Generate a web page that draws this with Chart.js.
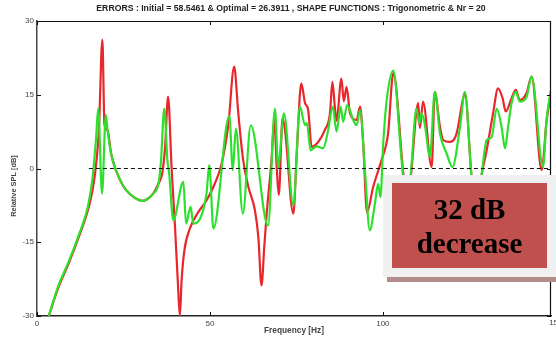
<!DOCTYPE html>
<html>
<head>
<meta charset="utf-8">
<script src="https://cdn.jsdelivr.net/npm/chart.js@4"></script>
<style>
html,body{margin:0;padding:0;background:#fff;}
canvas{display:block;}
</style>
</head>
<body>
<canvas id="c" width="556" height="338"></canvas>
<script>
// ---- data ----
const titleText = 'ERRORS : Initial = 58.5461 & Optimal = 26.3911 , SHAPE FUNCTIONS : Trigonometric & Nr = 20';
const xTitle = 'Frequency [Hz]';
const yTitle = 'Relative SPL [dB]';
const xTicks = [0, 50, 100];
const xExtraTick = 150;
const yTicks = [-30, -15, 0, 15, 30];
const boxLines = ['32 dB', 'decrease'];

const freqGreen = [3.4, 6.1, 9.3, 12.2, 14.7, 16.1, 17.1, 17.7, 18.8, 19.9, 20.4, 21.4, 22.8, 24.8, 26.7, 28.6, 30.5, 31.7, 33.6, 35.1, 35.8, 36.8, 37.7, 38.2, 39.4, 42.3, 43.1, 44.4, 45.2, 49.0, 49.8, 51.0, 55.6, 56.6, 57.5, 59.5, 61.8, 66.8, 68.8, 69.7, 71.4, 74.1, 76.0, 77.5, 78.0, 79.1, 80.8, 82.7, 84.1, 85.5, 86.6, 87.8, 88.5, 89.7, 91.4, 92.4, 93.4, 94.8, 96.2, 97.7, 98.6, 99.3, 100.1, 101.1, 103.0, 105.4, 106.6, 108.0, 109.7, 110.5, 111.2, 112.1, 113.6, 115.0, 116.5, 118.4, 120.1, 122.3, 123.7, 125.6, 126.9, 128.5, 130.0, 131.4, 132.9, 134.3, 135.3, 136.2, 137.2, 138.4, 139.6, 141.5, 143.0, 146.3, 147.3, 148.6];
const splGreen = [-30, -24, -18.7, -13.3, -7.8, -1.7, 6.4, 12.2, -5.1, 10.9, 7.8, 3.1, -0.3, -3.4, -5.1, -6.1, -6.6, -6.3, -5.1, -3.1, 1.0, 12.2, 1.7, -0.9, -10.5, -2.7, -11.2, -7.8, -11.2, -5.1, 0.7, -12.2, 10.7, -0.3, 8.1, -9.2, 8.8, -11.6, 12.2, 0.3, 11.2, -7.5, 12.6, 8.8, 9.3, 3.7, 4.5, 4.1, 7.5, 12.6, 7.5, 12.6, 9.5, 12.9, 9.9, 8.8, 11.9, -0.3, -12.6, -7.1, -3.1, -5.8, 5.1, 13.9, 19.9, 1.7, -6, -1.4, 12.2, 9.2, 11.2, 9, 2.4, 15.6, 7.1, 3.1, 0.3, 8.5, 15.6, -1.4, -8, -1.4, 5.8, 6.3, 12.2, 8.5, 4.1, 8.5, 13.3, 15.6, 13.6, 14.5, 18.7, 0.3, 9.9, 16];

const freqRed = [3.4, 6.2, 9.4, 12.3, 14.9, 16.6, 17.9, 18.9, 19.5, 20.4, 21.4, 22.8, 24.8, 26.7, 28.6, 30.5, 31.7, 33.6, 35.1, 36.2, 37.0, 37.9, 38.9, 39.9, 40.7, 41.3, 41.8, 42.6, 44.2, 46.6, 49.0, 51.4, 53.4, 55.3, 57.0, 58.2, 59.6, 61.1, 63.0, 64.0, 64.9, 65.7, 66.4, 67.8, 68.6, 69.3, 69.9, 71.0, 71.7, 74.1, 75.1, 76.4, 77.5, 78.4, 79.4, 81.3, 83.2, 84.7, 85.4, 86.1, 86.6, 88.0, 88.7, 89.5, 90.5, 92.4, 93.4, 94.3, 95.4, 97.2, 99.6, 101.5, 103.0, 105.9, 106.9, 108.1, 110.2, 110.7, 111.6, 114.1, 115.0, 116.5, 117.4, 119.4, 121.3, 123.2, 123.7, 125.6, 126.9, 128.5, 130.0, 131.8, 133.3, 134.6, 135.5, 137.2, 138.4, 139.6, 141.5, 143.0, 145.9, 147.3, 148.6];
const splRed = [-30, -24.2, -18.9, -13.5, -8, -2, 8, 26.2, 9, 7.8, 3.1, -0.3, -3.4, -5.1, -6.1, -6.6, -6.3, -5.1, -3.1, -1, 4, 14.6, 0.3, -11.9, -22.8, -30, -22.8, -16.7, -12.2, -8.9, -6.5, -3.1, 1.0, 8.8, 20.7, 11.2, 1.7, -3.7, -8.5, -14, -23.8, -16, -9.2, 1.7, 9.9, 0.3, -5.4, 10.3, 7.8, -9.2, 3.1, 17.3, 13.3, 11.9, 4.4, 5.4, 7.8, 11.2, 17.6, 12.6, 9.7, 18.3, 13.7, 16.6, 11.2, 9.9, 12.6, 5.2, -8.9, -3.7, 1.7, 7.1, 19.4, -1.0, -7, -1.4, 13.3, 8.2, 13.6, 0.3, 15.6, 8.5, 5.8, 5.4, 7.1, 14.3, 15.3, -1.4, -9, -1.4, 3.7, 11, 16.3, 14.3, 11.6, 14.3, 16, 13.9, 15.3, 18.7, -0.3, 9.5, 15.6];

const zeroFreq = [15, 148.6];
const zeroSpl = [0, 0];

// ---- chart ----
const zip = (xs, ys) => xs.map((x, i) => ({x: x, y: ys[i]}));

const framePlugin = {
  id: 'frame',
  afterDatasetsDraw(chart) {
    const {ctx, chartArea: a, scales: {x, y}} = chart;
    ctx.save();
    ctx.strokeStyle = '#111';
    ctx.lineWidth = 1.2;
    ctx.beginPath();
    ctx.moveTo(a.left, a.top + 0.5); ctx.lineTo(a.right, a.top + 0.5);
    ctx.moveTo(a.right - 0.5, a.top); ctx.lineTo(a.right - 0.5, a.bottom);
    ctx.stroke();
    ctx.lineWidth = 1;
    ctx.beginPath();
    xTicks.forEach(v => {
      const px = Math.round(x.getPixelForValue(v)) + 0.5;
      ctx.moveTo(px, a.bottom); ctx.lineTo(px, a.bottom - 4);
      ctx.moveTo(px, a.top); ctx.lineTo(px, a.top + 4);
    });
    yTicks.forEach(v => {
      const py = Math.round(y.getPixelForValue(v)) + 0.5;
      ctx.moveTo(a.left, py); ctx.lineTo(a.left + 4, py);
      ctx.moveTo(a.right, py); ctx.lineTo(a.right - 4, py);
    });
    ctx.stroke();
    ctx.restore();
  },
  afterDraw(chart) {
    const {ctx, chartArea: a, scales: {x, y}} = chart;
    ctx.save();
    // extra partial tick label
    ctx.fillStyle = '#444';
    ctx.font = '8px "Liberation Sans", Arial, sans-serif';
    ctx.textAlign = 'center';
    ctx.textBaseline = 'top';
    ctx.fillText(String(xExtraTick), x.getPixelForValue(xExtraTick), a.bottom + 3);
    // title
    ctx.fillStyle = '#222';
    ctx.font = 'bold 8.7px "Liberation Sans", Arial, sans-serif';
    ctx.textBaseline = 'middle';
    ctx.fillText(titleText, 291, 9);
    // axis titles
    ctx.fillStyle = '#444';
    ctx.font = 'bold 8.3px "Liberation Sans", Arial, sans-serif';
    ctx.fillText(xTitle, (a.left + a.right) / 2, 331);
    ctx.font = 'bold 7.4px "Liberation Sans", Arial, sans-serif';
    ctx.translate(14, 186);
    ctx.rotate(-Math.PI / 2);
    ctx.fillText(yTitle, 0, 0);
    ctx.restore();

    // annotation box
    ctx.save();
    ctx.fillStyle = '#f0f0f0';
    ctx.fillRect(383, 175, 173, 102);
    ctx.fillStyle = '#b48c8c';
    ctx.fillRect(387, 277, 169, 5);
    ctx.fillStyle = '#c0504d';
    ctx.fillRect(392, 183, 155, 85);
    ctx.fillStyle = '#000';
    ctx.font = 'bold 29px "Liberation Serif", "Times New Roman", serif';
    ctx.textAlign = 'center';
    ctx.textBaseline = 'alphabetic';
    ctx.fillText(boxLines[0], 469.5, 219);
    ctx.fillText(boxLines[1], 469.5, 253);
    ctx.restore();
  }
};

const tickFont = {family: '"Liberation Sans", Arial, sans-serif', size: 8};

new Chart(document.getElementById('c'), {
  type: 'line',
  data: {
    datasets: [
      {label: 'zero', data: zip(zeroFreq, zeroSpl), borderColor: '#111', borderWidth: 1.2,
       borderDash: [4, 3], pointRadius: 0, order: 0},
      {label: 'Optimal', data: zip(freqGreen, splGreen), borderColor: '#2ee02e', borderWidth: 2.2,
       pointRadius: 0, cubicInterpolationMode: 'monotone', order: 1},
      {label: 'Initial', data: zip(freqRed, splRed), borderColor: '#e8262c', borderWidth: 2.2,
       pointRadius: 0, cubicInterpolationMode: 'monotone', order: 2}
    ]
  },
  options: {
    responsive: false,
    animation: false,
    devicePixelRatio: 1,
    layout: {padding: {left: 0, top: 21, right: 5, bottom: 0}},
    plugins: {legend: {display: false}, tooltip: {enabled: false}, title: {display: false}},
    scales: {
      x: {
        type: 'linear', min: 0, max: 148.6,
        afterBuildTicks: s => { s.ticks = xTicks.map(v => ({value: v})); },
        afterFit: s => { s.height = 22; s.paddingLeft = 0; s.paddingRight = 0; },
        grid: {display: false, drawTicks: false},
        border: {display: true, color: '#222', width: 1.5},
        ticks: {font: tickFont, color: '#444', padding: 3, maxRotation: 0, autoSkip: false, includeBounds: false}
      },
      y: {
        type: 'linear', min: -30, max: 30,
        afterBuildTicks: s => { s.ticks = yTicks.map(v => ({value: v})); },
        afterFit: s => { s.width = 37; s.paddingTop = 0; s.paddingBottom = 0; },
        grid: {display: false, drawTicks: false},
        border: {display: true, color: '#444', width: 1.5},
        ticks: {font: tickFont, color: '#444', padding: 3, autoSkip: false}
      }
    }
  },
  plugins: [framePlugin]
});
</script>
</body>
</html>
